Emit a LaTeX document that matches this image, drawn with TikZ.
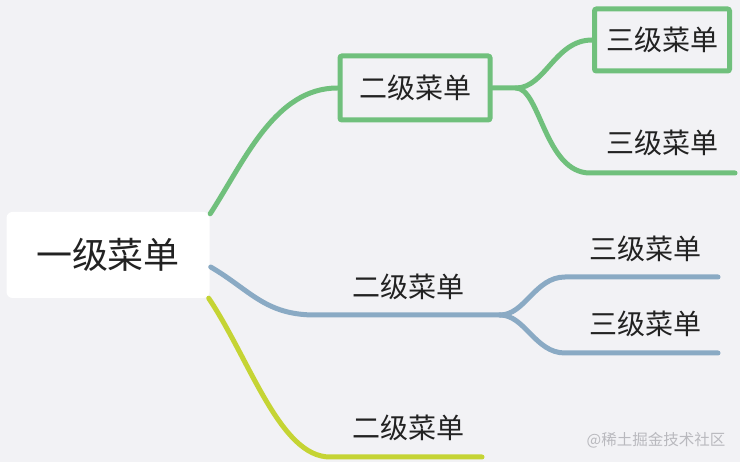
\documentclass[tikz,border=0pt]{standalone}
\usepackage{fontspec}
\newfontfamily\cjk{Noto Sans CJK SC}
\usetikzlibrary{positioning, calc}
\definecolor{bgcol}{RGB}{242,242,245}
\definecolor{mgreen}{RGB}{112,192,124}
\definecolor{mblue}{RGB}{138,170,196}
\definecolor{myellow}{RGB}{197,212,52}
\definecolor{txtcol}{RGB}{34,34,34}
\definecolor{markcol}{RGB}{185,185,190}

\begin{document}
\begin{tikzpicture}[x=1pt, y=-1pt, line cap=round,
    root/.style={fill=white, rounded corners=6pt, minimum width=203pt, minimum height=86pt, text=txtcol, font=\cjk\fontsize{36}{40}\selectfont},
    sub/.style={inner sep=0pt, text=txtcol, font=\cjk\fontsize{28}{32}\selectfont},
    framed/.style={draw=mgreen, line width=5pt, rounded corners=2pt},
    link/.style={line width=5pt}]
    \fill[bgcol] (0,0) rectangle (740,462);
    \useasboundingbox (0,0) rectangle (740,462);

    % nodes
    \node[root] (root) at (108,255) {一级菜单};
    \node[sub, framed, minimum width=150pt, minimum height=64pt] (g2) at (415,88) {二级菜单};
    \node[sub, framed, minimum width=135pt, minimum height=62pt] (g3a) at (662,40) {三级菜单};
    \node[sub] (g3b) at (662,143) {三级菜单};
    \node[sub] (b2) at (408,287) {二级菜单};
    \node[sub] (b3a) at (645,249) {三级菜单};
    \node[sub] (b3b) at (645,324) {三级菜单};
    \node[sub] (y2) at (408,428) {二级菜单};
    \node[text=markcol, font=\cjk\fontsize{15.5}{18}\selectfont] (mark) at (656,440) {@稀土掘金技术社区};

    % forks and line ends
    \coordinate (gfork) at (516,88);
    \coordinate (g3b-e) at (735,173);
    \coordinate (bfork) at (500,315);
    \coordinate (b3a-e) at (718,277);
    \coordinate (b3b-e) at (718,353);
    \coordinate (y2-e) at (482,457);

    % green branch
    \draw[link, mgreen] ($(root.north east)+(0.5,2)$) .. controls (245,160) and (275,88) .. (g2.west);
    \draw[link, mgreen] (g2.east) -- (gfork) .. controls (545,88) and (555,40) .. (g3a.west);
    \draw[link, mgreen] (gfork) .. controls (540,88) and (545,173) .. (590,173) -- (g3b-e);

    % blue branch
    \draw[link, mblue] ($(root.east)+(1,12)$) .. controls (250,290) and (265,315) .. (315,315) -- (bfork);
    \draw[link, mblue] (bfork) .. controls (525,315) and (535,277) .. (565,277) -- (b3a-e);
    \draw[link, mblue] (bfork) .. controls (525,315) and (535,353) .. (565,353) -- (b3b-e);

    % yellow branch
    \draw[link, myellow] ($(root.south east)+(-1,0)$) .. controls (250,360) and (280,457) .. (330,457) -- (y2-e);
\end{tikzpicture}
\end{document}
